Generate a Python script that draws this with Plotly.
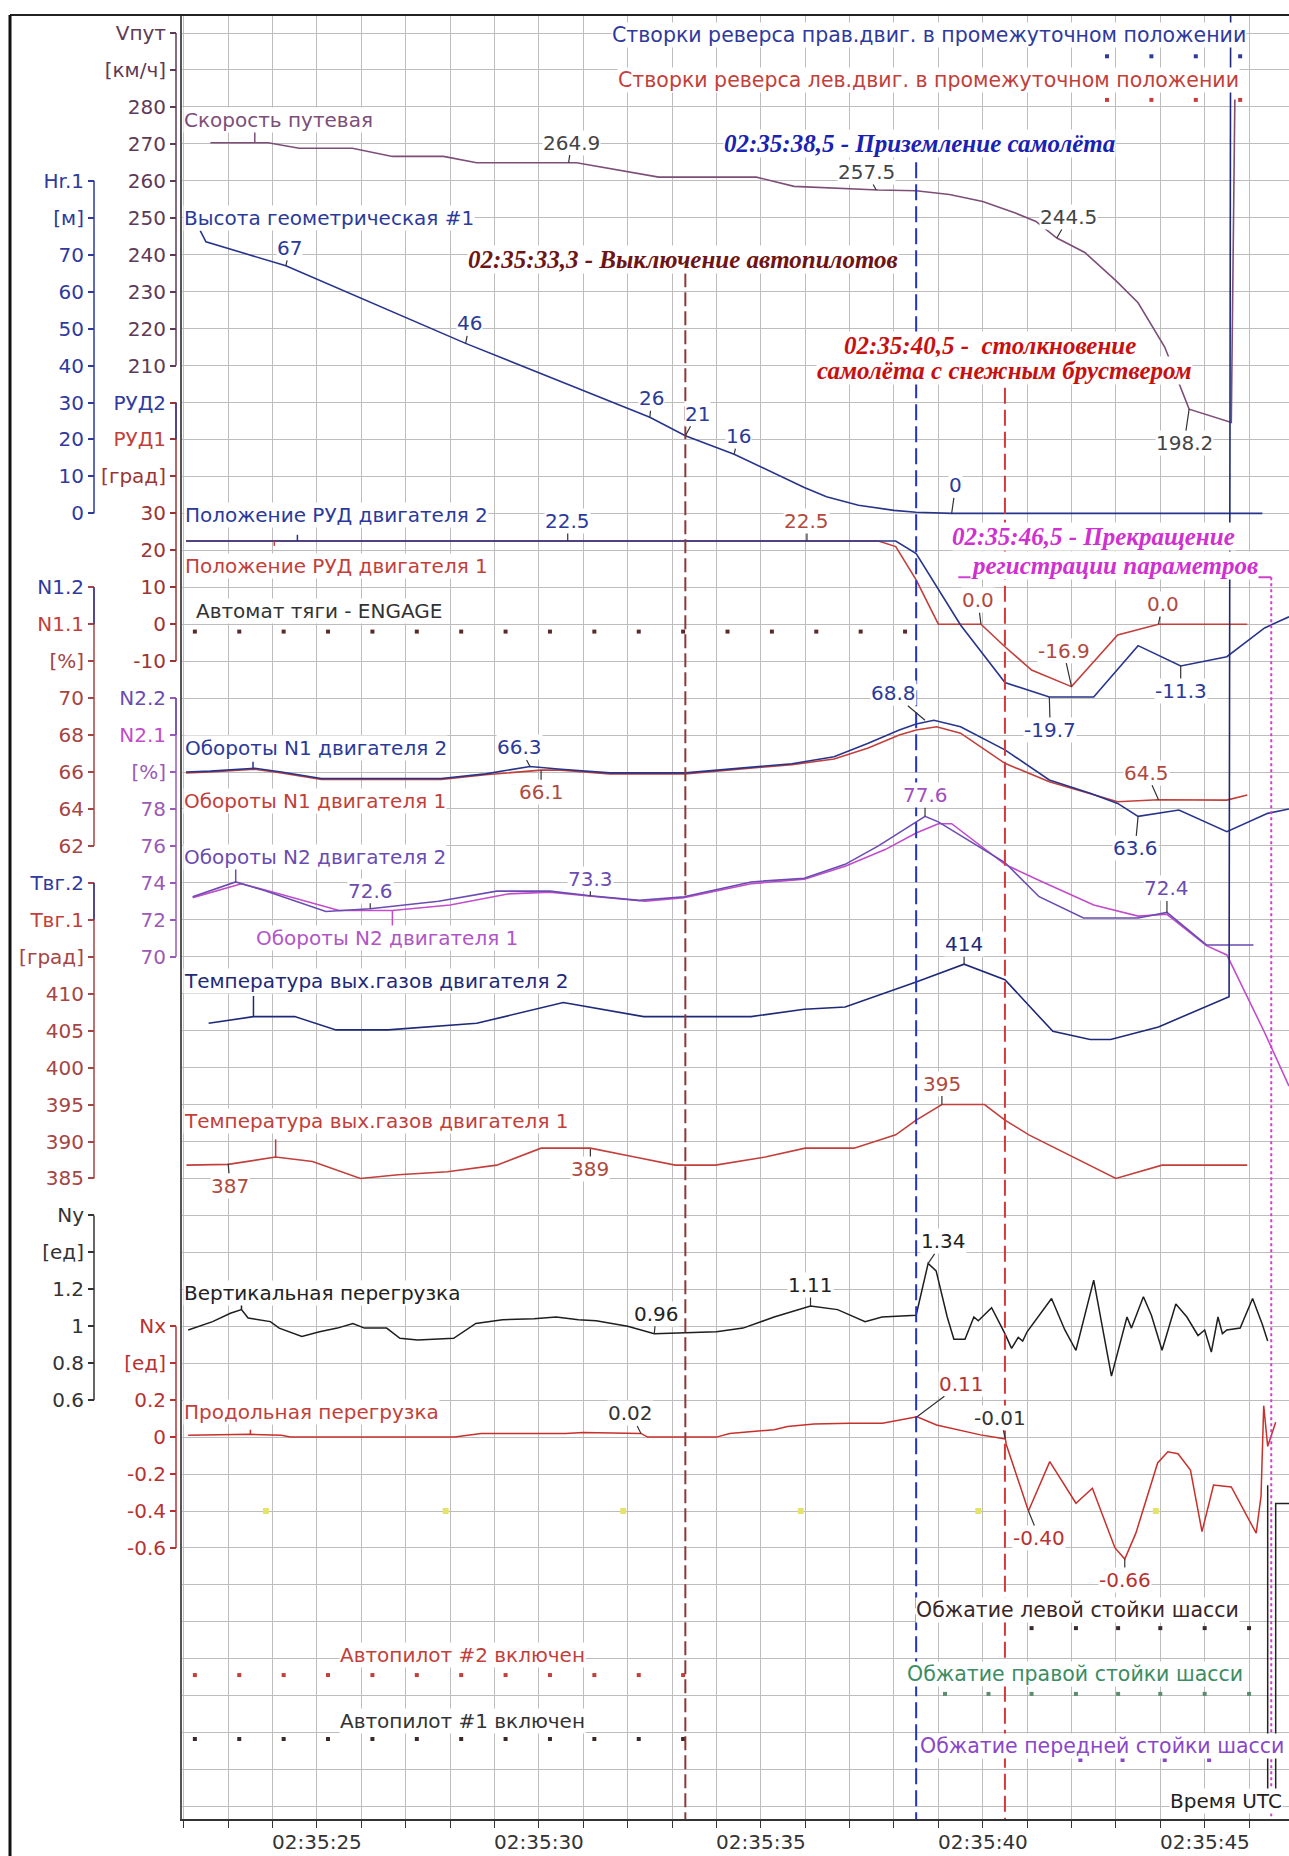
import plotly.graph_objects as go

# ---------------- data (time in seconds after 02:35:00) ----------------
time_ticks = [22, 23, 24, 25, 26, 27, 28, 29, 30, 31, 32, 33, 34, 35, 36, 37, 38, 39, 40, 41, 42, 43, 44, 45, 46]
time_label_t = [25, 30, 35, 40, 45]
time_label_s = ['02:35:25', '02:35:30', '02:35:35', '02:35:40', '02:35:45']

speed_t = [22.6, 23.9, 24.6, 25.8, 26.7, 27.85, 28.6, 30.85, 32.7, 34.9, 35.75, 37.65, 38.5, 39.25, 40.0, 40.75,
           41.2, 41.67, 42.3, 43.0, 43.5, 44.1, 44.65, 45.6, 45.68]
speed_v = [270.3, 270.3, 268.8, 268.8, 266.6, 266.6, 264.9, 264.9, 261.0, 261.0, 258.5, 257.5, 257.3, 256.3, 254.4,
           251.2, 249.0, 244.5, 240.6, 233.0, 227.0, 215.0, 198.2, 194.6, 282.0]

hr_t = [22.37, 22.5, 24.3, 28.35, 32.5, 33.3, 34.4, 35.98, 36.48, 37.2, 38.0, 38.5, 39.3, 46.3]
hr_v = [76.5, 73.5, 67, 46, 26, 21, 16, 7, 4.5, 2.2, 0.8, 0.3, 0, 0]

rud2_t = [22.05, 38.04, 38.5, 39.5, 40.5, 41.5, 42.5, 43.5, 44.46, 45.5, 46.35, 46.9]
rud2_v = [22.5, 22.5, 19.1, -0.2, -15.8, -19.7, -19.7, -5.8, -11.3, -8.8, -1.0, 2.0]
rud1_t = [22.05, 37.65, 38.04, 38.5, 39.0, 39.96, 40.5, 41.1, 42.0, 43.04, 43.96, 45.96]
rud1_v = [22.5, 22.5, 21.0, 12.0, 0.0, 0.0, -6.1, -12.4, -16.9, -2.9, 0.0, 0.0]

n1_2_t = [22.05, 22.6, 23.6, 24.2, 25.1, 27.8, 28.8, 29.8, 30.5, 31.6, 33.3, 34.2, 35.7, 36.65, 37.42, 38.12, 38.5,
          38.9, 39.5, 40.5, 41.5, 42.42, 43.04, 43.5, 44.42, 45.5, 46.42, 46.9]
n1_2_v = [66.0, 66.05, 66.2, 66.0, 65.65, 65.65, 65.9, 66.3, 66.15, 65.95, 65.95, 66.15, 66.45, 66.83, 67.55, 68.27,
          68.6, 68.8, 68.45, 67.2, 65.57, 64.85, 64.3, 63.6, 63.94, 62.77, 63.76, 64.0]
n1_1_t = [22.05, 22.6, 23.6, 24.2, 25.1, 27.8, 28.8, 30.05, 30.5, 31.6, 33.3, 34.2, 35.7, 36.65, 37.42, 38.12, 38.5,
          38.96, 39.5, 40.5, 41.5, 43.04, 43.96, 45.5, 45.96]
n1_1_v = [65.95, 66.0, 66.15, 65.95, 65.6, 65.6, 65.85, 66.1, 66.1, 65.9, 65.9, 66.1, 66.4, 66.7, 67.3, 68.0, 68.27,
          68.45, 68.1, 66.47, 65.47, 64.39, 64.5, 64.48, 64.75]

n2_2_t = [22.2, 23.17, 23.8, 25.2, 26.2, 27.74, 29.05, 30.25, 31.16, 32.26, 33.27, 34.78, 35.98, 36.9, 37.65, 38.3,
          38.7, 39.0, 40.5, 41.27, 42.27, 43.5, 44.15, 45.04, 46.1]
n2_2_v = [73.25, 74.05, 73.6, 72.45, 72.6, 73.0, 73.55, 73.55, 73.3, 73.05, 73.25, 74.05, 74.25, 75.0, 76.0, 77.0,
          77.6, 77.3, 75.1, 73.25, 72.1, 72.1, 72.4, 70.64, 70.64]
n2_1_t = [22.2, 23.3, 24.0, 25.5, 26.7, 28.0, 29.3, 30.25, 31.3, 32.4, 33.27, 34.78, 35.98, 36.9, 37.8, 38.5, 39.0,
          39.3, 40.5, 41.3, 42.5, 43.5, 44.15, 45.04, 45.5, 46.35, 46.9]
n2_1_v = [73.2, 73.95, 73.5, 72.5, 72.5, 72.8, 73.4, 73.5, 73.25, 73.0, 73.2, 73.95, 74.2, 74.9, 75.8, 76.7, 77.2,
          77.2, 75.0, 74.1, 72.8, 72.2, 72.3, 70.6, 70.1, 65.9, 63.0]

egt2_t = [22.56, 23.57, 24.5, 25.43, 26.6, 28.6, 30.55, 32.36, 33.27, 34.78, 35.98, 36.9, 38.5, 39.58, 40.5, 41.58,
          42.42, 42.88, 43.96, 45.55, 45.6]
egt2_v = [406.0, 406.9, 406.9, 405.1, 405.1, 406.0, 408.8, 406.9, 406.9, 406.9, 407.9, 408.2, 411.6, 414.0, 411.9,
          404.9, 403.8, 403.8, 405.5, 409.6, 600.0]
egt1_t = [22.06, 23.0, 24.07, 24.9, 25.98, 26.83, 27.94, 29.05, 30.05, 31.16, 32.16, 33.07, 33.98, 35.1, 36.0, 37.1,
          38.04, 38.5, 39.08, 40.04, 40.5, 41.04, 43.0, 44.04, 45.96]
egt1_v = [386.8, 386.9, 387.9, 387.3, 385.0, 385.5, 385.9, 386.8, 389.1, 389.1, 387.9, 386.8, 386.8, 387.9, 389.1,
          389.1, 390.9, 392.9, 395.0, 395.0, 392.9, 390.9, 385.0, 386.8, 386.8]

ny_t = [22.1, 22.65, 23.05, 23.3, 23.45, 23.95, 24.15, 24.66, 25.06, 25.46, 25.81, 26.07, 26.57, 26.87, 27.27, 28.08,
        28.58, 29.18, 29.89, 30.39, 30.89, 31.29, 32.0, 32.6, 33.3, 34.0, 34.6, 35.3, 36.12, 36.73, 37.35, 37.73,
        38.5, 38.77, 38.95, 39.2, 39.35, 39.6, 39.8, 39.9, 40.2, 40.5, 40.65, 40.8, 40.9, 41.0, 41.55, 41.85, 42.1,
        42.5, 42.9, 43.25, 43.35, 43.62, 43.8, 44.04, 44.35, 44.6, 44.85, 45.0, 45.15, 45.3, 45.4, 45.5, 45.8, 46.08,
        46.3, 46.42]
ny_v = [0.98, 1.025, 1.07, 1.09, 1.045, 1.025, 0.99, 0.945, 0.97, 0.99, 1.015, 0.99, 0.99, 0.935, 0.925, 0.935,
        1.015, 1.035, 1.04, 1.05, 1.035, 1.03, 1.0, 0.96, 0.965, 0.97, 0.99, 1.05, 1.11, 1.09, 1.025, 1.05,
        1.06, 1.34, 1.30, 1.05, 0.93, 0.93, 1.05, 1.03, 1.10, 0.96, 0.88, 0.94, 0.92, 0.97, 1.15, 0.98, 0.87,
        1.25, 0.73, 1.05, 0.99, 1.16, 1.06, 0.87, 1.12, 1.05, 0.95, 0.98, 0.86, 1.05, 0.96, 0.98, 0.99, 1.15,
        1.01, 0.92]

nx_t = [22.1, 23.5, 24.2, 24.4, 24.8, 25.9, 26.5, 28.1, 28.7, 30.6, 31.0, 32.3, 32.45, 34.0, 34.3, 35.3, 35.6, 36.2,
        37.0, 37.74, 38.52, 38.96, 39.95, 40.51, 40.53, 41.03, 41.51, 42.1, 42.47, 42.98, 43.2, 43.45, 43.94, 44.17,
        44.4, 44.68, 44.94, 45.2, 45.6, 46.16, 46.27, 46.33, 46.42, 46.6]
nx_v = [0.01, 0.015, 0.01, 0.0, 0.0, 0.0, 0.0, 0.0, 0.02, 0.02, 0.025, 0.02, 0.0, 0.0, 0.02, 0.04, 0.057, 0.071,
        0.075, 0.075, 0.11, 0.066, 0.012, -0.01, -0.04, -0.40, -0.133, -0.358, -0.277, -0.60, -0.66, -0.52, -0.14,
        -0.079, -0.09, -0.178, -0.512, -0.259, -0.27, -0.52, -0.32, 0.17, -0.05, 0.08]

# discrete (ON samples)
engage_t = [22.25, 23.25, 24.25, 25.25, 26.25, 27.25, 28.25, 29.25, 30.25, 31.25, 32.25, 33.25, 34.25, 35.25,
            36.25, 37.25, 38.25]
ap2_t = [22.25, 23.25, 24.25, 25.25, 26.25, 27.25, 28.25, 29.25, 30.25, 31.25, 32.25, 33.25]
ap1_t = [22.25, 23.25, 24.25, 25.25, 26.25, 27.25, 28.25, 29.25, 30.25, 31.25, 32.25, 33.25]
gear_left_t = [41.1, 42.1, 43.05, 44.0, 45.0, 46.0]
gear_right_t = [39.15, 40.13, 41.1, 42.1, 43.05, 44.0, 45.0, 46.0]
gear_nose_t = [42.2, 43.15, 44.1, 45.1]
rev_right_t = [42.8, 43.8, 44.8, 45.8]
rev_left_t = [42.8, 43.8, 44.8, 45.8]
aux_t = [23.85, 27.9, 31.9, 35.9, 39.9, 43.9]
glitch_t = [46.42, 46.6]

# events
t_ap_off, t_landing, t_collision, t_stop = 33.3, 38.5, 40.5, 46.5

# axis tick labels
speed_tv = [300, 290, 280, 270, 260, 250, 240, 230, 220, 210]
speed_tt = ['Vпут', '[км/ч]', '280', '270', '260', '250', '240', '230', '220', '210']
hr_tv = [90, 80, 70, 60, 50, 40, 30, 20, 10, 0]
hr_tt = ['Hr.1', '[м]', '70', '60', '50', '40', '30', '20', '10', '0']
rud_tv = [60, 50, 40, 30, 20, 10, 0, -10]
rud_tt = ['РУД2', 'РУД1', '[град]', '30', '20', '10', '0', '-10']
n1_tv = [76, 74, 72, 70, 68, 66, 64, 62]
n1_tt = ['N1.2', 'N1.1', '[%]', '70', '68', '66', '64', '62']
n2_tv = [84, 82, 80, 78, 76, 74, 72, 70]
n2_tt = ['N2.2', 'N2.1', '[%]', '78', '76', '74', '72', '70']
egt_tv = [425, 420, 415, 410, 405, 400, 395, 390, 385]
egt_tt = ['Твг.2', 'Твг.1', '[град]', '410', '405', '400', '395', '390', '385']
ny_tv = [1.6, 1.4, 1.2, 1.0, 0.8, 0.6]
ny_tt = ['Ny', '[ед]', '1.2', '1', '0.8', '0.6']
nx_tv = [0.6, 0.4, 0.2, 0.0, -0.2, -0.4, -0.6]
nx_tt = ['Nx', '[ед]', '0.2', '0', '-0.2', '-0.4', '-0.6']

# ---------------- geometry / style ----------------
W, H = 1289, 1856
PLOT_L, PLOT_T, PLOT_B = 182, 15, 1819
ROW0, ROWH = 33.0, 36.95
T_MIN, T_MAX = 21.96, 46.9
ROW_TOP = (PLOT_T - ROW0) / ROWH
ROW_BOT = (PLOT_B - ROW0) / ROWH
POS_L, POS_R = 94 / W, 176 / W
FONT = 'DejaVu Sans'
SERIF = 'Liberation Serif'
FS = 20
GRID = '#BDBDBD'

C_SPEED = '#7D4E78'
C_BLUE = '#27348B'
C_RED = '#C23F3B'
C_N2B = '#6A4CB2'
C_N2M = '#C24CCB'
C_DARK = '#1E1E1E'
C_NAVY = '#1E2A78'


def span(text, color):
    return '<span style="color:%s">%s</span>' % (color, text)


# channel axes: name -> (v0, row0, step, position, ticks, labels, color)
channels = {
    'y2': (280, 2, 10, POS_R, speed_tv, speed_tt, '#5E3A58'),
    'y3': (0, 13, 10, POS_L, hr_tv, hr_tt, '#2E3A9E'),
    'y4': (30, 13, 10, POS_R, rud_tv,
           [span('РУД2', '#2E3A9E'), span('РУД1', C_RED)] + rud_tt[2:], '#9A3535'),
    'y5': (70, 18, 2, POS_L, n1_tv,
           [span('N1.2', '#2E3A9E'), span('N1.1', C_RED)] + n1_tt[2:], '#A54545'),
    'y6': (78, 21, 2, POS_R, n2_tv,
           [span('N2.2', C_N2B), span('N2.1', C_N2M)] + n2_tt[2:], '#9A5AB8'),
    'y7': (410, 26, 5, POS_L, egt_tv,
           [span('Твг.2', '#2E3A9E'), span('Твг.1', C_RED)] + egt_tt[2:], '#A54545'),
    'y8': (1.2, 34, 0.2, POS_L, ny_tv, ny_tt, '#333333'),
    'y9': (0.2, 37, 0.2, POS_R, nx_tv, nx_tt, '#B83232'),
}

fig = go.Figure()


def line(t, v, ax, color, width=1.6):
    fig.add_trace(go.Scatter(x=t, y=v, mode='lines', yaxis=ax, xaxis='x',
                             line=dict(color=color, width=width), hoverinfo='skip'))


line(speed_t, speed_v, 'y2', C_SPEED)
line(hr_t, hr_v, 'y3', C_BLUE)
line(rud1_t, rud1_v, 'y4', C_RED)
line(rud2_t, rud2_v, 'y4', C_BLUE)
line(n1_1_t, n1_1_v, 'y5', C_RED)
line(n1_2_t, n1_2_v, 'y5', C_BLUE)
line(n2_1_t, n2_1_v, 'y6', C_N2M)
line(n2_2_t, n2_2_v, 'y6', C_N2B)
line(egt1_t, egt1_v, 'y7', C_RED)
line(egt2_t, egt2_v, 'y7', C_NAVY)
line(ny_t, ny_v, 'y8', C_DARK, 1.5)
line(nx_t, nx_v, 'y9', '#C8302C', 1.5)

# discrete lanes (row units of the main axis)
lanes = [
    (rev_right_t, 0.63, '#2E3A9E', 4),
    (rev_left_t, 1.81, '#C23F3B', 4),
    (engage_t, 16.2, '#5A2A2A', 4),
    (aux_t, 40.0, '#E4E46A', 6),
    (gear_left_t, 43.17, '#3A2A2A', 4),
    (ap2_t, 44.44, '#C23F3B', 4),
    (gear_right_t, 44.95, '#5E8C72', 4),
    (ap1_t, 46.17, '#3A2A2A', 4),
    (gear_nose_t, 46.74, '#8A48C8', 4),
]
for tt, lane, col, sz in lanes:
    fig.add_trace(go.Scatter(x=tt, y=[lane] * len(tt), mode='markers', yaxis='y', xaxis='x',
                             marker=dict(symbol='square', size=sz, color=col), hoverinfo='skip'))

# end-of-record glitches in the gear lanes
fig.add_trace(go.Scatter(x=[glitch_t[0], glitch_t[0]], y=[39.3, 47.6], mode='lines', yaxis='y',
                         line=dict(color='#222', width=1.5), hoverinfo='skip'))
fig.add_trace(go.Scatter(x=[glitch_t[1], glitch_t[1], T_MAX], y=[47.6, 39.8, 39.8], mode='lines', yaxis='y',
                         line=dict(color='#222', width=1.5), hoverinfo='skip'))

layout = dict(
    width=W, height=H, margin=dict(l=0, r=0, t=PLOT_T, b=H - PLOT_B),
    paper_bgcolor='white', plot_bgcolor='white', showlegend=False,
    xaxis=dict(domain=[PLOT_L / W, 1], range=[T_MIN, T_MAX], tickmode='array', tickvals=time_ticks,
               showticklabels=False, showgrid=True, gridcolor=GRID, gridwidth=1.2, ticks='outside', ticklen=7,
               tickcolor='#333', showline=True, linecolor='#333', linewidth=2, zeroline=False, anchor='y'),
    yaxis=dict(domain=[0, 1], range=[ROW_BOT, ROW_TOP], tickmode='linear', tick0=0, dtick=1,
               showticklabels=False, ticks='', showgrid=True, gridcolor=GRID, gridwidth=1.2, showline=True,
               linecolor='#555', linewidth=2, zeroline=False, anchor='x'),
)

shapes = []
for name, (v0, k0, step, pos, tv, tt, col) in channels.items():
    rng = [v0 - (ROW_BOT - k0) * step, v0 - (ROW_TOP - k0) * step]
    layout['yaxis' + name[1:]] = dict(
        overlaying='y', anchor='free', position=pos, side='left', range=rng, tickmode='array',
        tickvals=tv, ticktext=tt, ticks='outside', ticklen=6, tickwidth=1.5, tickcolor=col,
        showgrid=False, zeroline=False, showline=False,
        tickfont=dict(family=FONT, size=FS, color=col))
    shapes.append(dict(type='line', xref='paper', yref=name, x0=pos, x1=pos, y0=tv[0], y1=tv[-1],
                       line=dict(color=col, width=1.5)))

# two-coloured bracket tops
for name, top, mid, col in [('y4', 60, 50, '#2E3A9E'), ('y5', 76, 74, '#2E3A9E'),
                            ('y7', 425, 420, '#2E3A9E'), ('y6', 84, 82, C_N2B)]:
    pos = channels[name][3]
    shapes.append(dict(type='line', xref='paper', yref=name, x0=pos, x1=pos, y0=top, y1=mid,
                       line=dict(color=col, width=1.5)))

# event lines
shapes += [
    dict(type='line', xref='x', yref='y', x0=t_ap_off, x1=t_ap_off, y0=6.5, y1=ROW_BOT,
         line=dict(color='#8B3A3A', width=2, dash='14px,5px')),
    dict(type='line', xref='x', yref='y', x0=t_landing, x1=t_landing, y0=3.5, y1=ROW_BOT,
         line=dict(color='#2232C8', width=2, dash='16px,6px')),
    dict(type='line', xref='x', yref='y', x0=t_collision, x1=t_collision, y0=9.6, y1=ROW_BOT,
         line=dict(color='#D23A3A', width=2, dash='16px,6px')),
    dict(type='line', xref='x', yref='y', x0=39.45, x1=t_stop, y0=14.73, y1=14.73,
         line=dict(color='#D040D0', width=2)),
    dict(type='line', xref='x', yref='y', x0=t_stop, x1=t_stop, y0=14.73, y1=ROW_BOT,
         line=dict(color='#D040D0', width=2, dash='dot')),
    # frame
    dict(type='line', xref='paper', yref='paper', x0=10 / W, x1=1, y0=1, y1=1,
         line=dict(color='#222', width=2)),
    dict(type='line', xref='paper', yref='paper', x0=10 / W, x1=10 / W, y0=1,
         y1=-(H - PLOT_B) / (PLOT_B - PLOT_T), line=dict(color='#111', width=3)),
]

# short leader ticks joining channel names to their curves
leaders = [
    ('y2', 23.6, 270.3, 273.6, C_SPEED),
    ('y4', 24.04, 22.5, 21.2, C_RED),
    ('y4', 24.56, 22.5, 24.2, C_BLUE),
    ('y5', 23.56, 66.2, 66.55, C_BLUE),
    ('y6', 23.17, 74.05, 74.95, C_N2B),
    ('y6', 26.7, 72.5, 71.6, C_N2M),
    ('y7', 23.57, 406.9, 409.7, C_NAVY),
    ('y7', 24.07, 387.9, 390.3, C_RED),
    ('y8', 23.3, 1.09, 1.115, C_DARK),
    ('y9', 23.5, 0.015, 0.04, '#C8302C'),
]
for ax_name, t, v_from, v_to, col in leaders:
    shapes.append(dict(type='line', xref='x', yref=ax_name, x0=t, x1=t, y0=v_from, y1=v_to,
                       line=dict(color=col, width=1.5)))

ann = []


def text(t, row, s, color, anchor='left', size=FS, family=FONT, bold=False, italic=False, bg='white'):
    f = dict(family=family, size=size, color=color)
    if bold:
        f['weight'] = 'bold'
    if italic:
        f['style'] = 'italic'
    ann.append(dict(x=t, y=row, xref='x', yref='y', text=s, showarrow=False, xanchor=anchor,
                    yanchor='middle', font=f, bgcolor=bg, borderpad=0))


def val(t, v, ax_name, s, ax, ay, color):
    ann.append(dict(x=t, y=v, xref='x', yref=ax_name, text=s, showarrow=True, arrowhead=0, arrowwidth=1.2,
                    arrowcolor='#333', ax=ax, ay=ay, standoff=0,
                    font=dict(family=FONT, size=FS, color=color), bgcolor='white', borderpad=0))


# channel names
text(21.99, 2.35, 'Скорость путевая', C_SPEED)
text(21.99, 5.0, 'Высота геометрическая #1', '#2B3A9A')
text(22.01, 13.05, 'Положение РУД двигателя 2', '#2B3A9A')
text(22.01, 14.43, 'Положение РУД двигателя 1', C_RED)
text(22.25, 15.65, 'Автомат тяги - ENGAGE', '#333')
text(22.01, 19.35, 'Обороты N1 двигателя 2', '#2B3A9A')
text(21.99, 20.78, 'Обороты N1 двигателя 1', C_RED)
text(21.99, 22.3, 'Обороты N2 двигателя 2', C_N2B)
text(23.6, 24.49, 'Обороты N2 двигателя 1', '#B055C8')
text(21.99, 25.65, 'Температура вых.газов двигателя 2', C_NAVY)
text(21.99, 29.45, 'Температура вых.газов двигателя 1', C_RED)
text(21.99, 34.1, 'Вертикальная перегрузка', '#222')
text(21.99, 37.33, 'Продольная перегрузка', C_RED)
text(28.27, 43.9, 'Автопилот #2 включен', C_RED, anchor='center')
text(28.27, 45.67, 'Автопилот #1 включен', '#333', anchor='center')
text(38.47, 42.68, 'Обжатие левой стойки шасси', '#3A2626', size=20.5)
text(38.27, 44.42, 'Обжатие правой стойки шасси', '#3C8C64', size=20.5)
text(38.57, 46.36, 'Обжатие передней стойки шасси', '#8A48C8', size=20.5)
text(38.78, 0.05, 'Створки реверса прав.двиг. в промежуточном положении', '#2E3A9E', anchor='center',
     size=20.5)
text(38.78, 1.27, 'Створки реверса лев.двиг. в промежуточном положении', C_RED, anchor='center', size=20.5)

# events
text(38.58, 3.0, '02:35:38,5 - Приземление самолёта', '#1A22B4', anchor='center', size=25, family=SERIF,
     bold=True, italic=True)
text(33.24, 6.14, '02:35:33,3 - Выключение автопилотов', '#6E1414', anchor='center', size=25, family=SERIF,
     bold=True, italic=True)
text(40.16, 8.47, '02:35:40,5 -  столкновение', '#C81010', anchor='center', size=25, family=SERIF,
     bold=True, italic=True)
text(40.5, 9.13, 'самолёта с снежным бруствером', '#C81010', anchor='center', size=25, family=SERIF,
     bold=True, italic=True)
text(42.5, 13.62, '02:35:46,5 - Прекращение', '#D030D0', anchor='center', size=25, family=SERIF,
     bold=True, italic=True)
text(42.97, 14.4, 'регистрации параметров', '#D030D0', anchor='center', size=25, family=SERIF,
     bold=True, italic=True)

# time axis labels
for t, s in zip(time_label_t, time_label_s):
    ann.append(dict(x=t, y=-(1842 - PLOT_B) / (PLOT_B - PLOT_T), xref='x', yref='paper', text=s,
                    showarrow=False, xanchor='center', yanchor='middle',
                    font=dict(family=FONT, size=FS, color='#333')))
ann.append(dict(x=1283 / W, y=47.86, xref='paper', yref='y', text='Время UTC', showarrow=False, xanchor='right',
                yanchor='middle', font=dict(family=FONT, size=FS, color='#222'), bgcolor='white', borderpad=0))

# value labels
val(30.67, 264.9, 'y2', '264.9', 3, -20, '#444')
val(37.6, 257.5, 'y2', '257.5', -10, -18, '#444')
val(41.67, 244.5, 'y2', '244.5', 12, -21, '#444')
val(44.65, 198.2, 'y2', '198.2', -5, 34, '#444')
val(24.3, 67, 'y3', '67', 4, -18, '#2B3A9A')
val(28.35, 46, 'y3', '46', 4, -20, '#2B3A9A')
val(32.5, 26, 'y3', '26', 2, -19, '#2B3A9A')
val(33.3, 21, 'y3', '21', 12, -22, '#2B3A9A')
val(34.4, 16, 'y3', '16', 4, -18, '#2B3A9A')
val(39.3, 0, 'y3', '0', 4, -28, '#2B3A9A')
val(30.65, 22.5, 'y4', '22.5', 0, -20, '#2B3A9A')
val(36.04, 22.5, 'y4', '22.5', 0, -20, '#B04A40')
val(39.96, 0.0, 'y4', '0.0', -3, -24, '#B04A40')
val(43.96, 0.0, 'y4', '0.0', 4, -20, '#B04A40')
val(42.0, -16.9, 'y4', '-16.9', -8, -36, '#B04A40')
val(41.5, -19.7, 'y4', '-19.7', 1, 33, '#2B3A9A')
val(44.46, -11.3, 'y4', '-11.3', 0, 25, '#2B3A9A')
val(38.7, 68.8, 'y5', '68.8', -32, -27, '#2B3A9A')
val(29.8, 66.3, 'y5', '66.3', -10, -19, '#2B3A9A')
val(30.05, 66.1, 'y5', '66.1', 0, 22, '#B04A40')
val(43.96, 64.5, 'y5', '64.5', -12, -27, '#B04A40')
val(43.5, 63.6, 'y5', '63.6', -3, 32, '#2B3A9A')
val(38.7, 77.6, 'y6', '77.6', 0, -21, '#A050C0')
val(26.2, 72.6, 'y6', '72.6', 0, -18, '#6A4CB2')
val(31.16, 73.3, 'y6', '73.3', 0, -17, '#6A4CB2')
val(44.15, 72.4, 'y6', '72.4', 0, -24, '#6A4CB2')
val(39.58, 414, 'y7', '414', 0, -20, C_NAVY)
val(39.08, 395, 'y7', '395', 0, -21, '#B04A40')
val(23.0, 387, 'y7', '387', 2, 22, '#B04A40')
val(31.16, 389, 'y7', '389', 0, 20, '#B04A40')
val(38.77, 1.34, 'y8', '1.34', 15, -22, '#222')
val(36.12, 1.11, 'y8', '1.11', 0, -21, '#222')
val(32.6, 0.96, 'y8', '0.96', 2, -20, '#222')
val(38.52, 0.11, 'y9', '0.11', 44, -33, '#B83232')
val(40.51, -0.01, 'y9', '-0.01', -5, -21, '#333')
val(32.3, 0.02, 'y9', '0.02', -10, -20, '#333')
val(41.03, -0.40, 'y9', '-0.40', 11, 27, '#B83232')
val(43.2, -0.66, 'y9', '-0.66', 0, 21, '#B83232')

layout['shapes'] = shapes
layout['annotations'] = ann
fig.update_layout(**layout)
fig.write_html('out.html', config={'displayModeBar': False},
               post_script="document.body.style.margin='0px';")
